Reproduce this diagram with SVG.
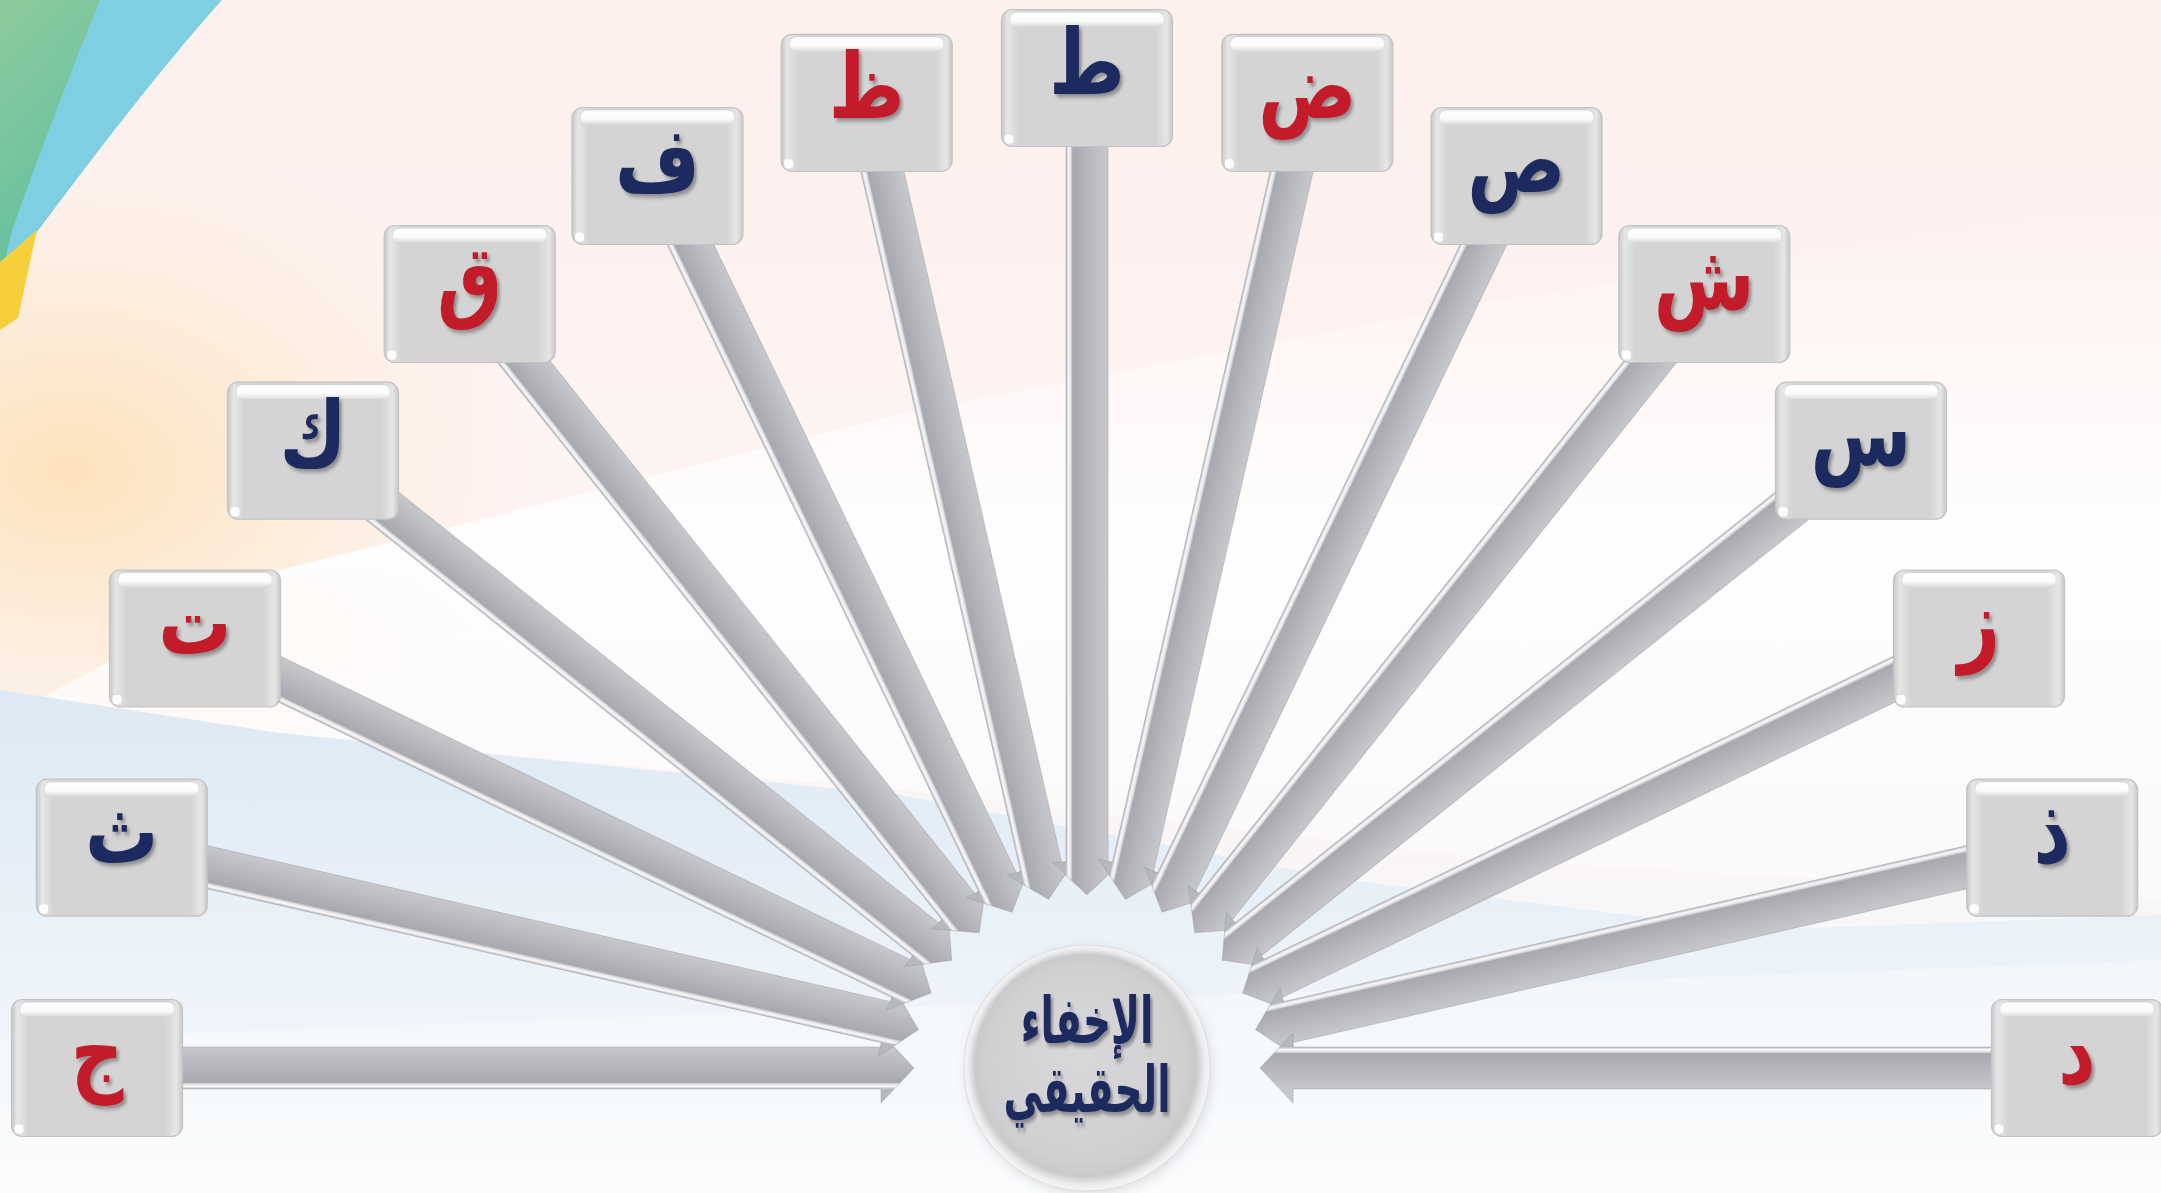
<svg xmlns="http://www.w3.org/2000/svg" xmlns:xlink="http://www.w3.org/1999/xlink" width="2161" height="1193" viewBox="0 0 2161 1193">
<defs>
<style>
.lt{font-family:"DejaVu Sans","Noto Sans",sans-serif;font-weight:bold;font-size:86px;text-anchor:middle;filter:url(#tsh)}
.red{fill:#c21f2b}
.navy{fill:#1f2a5e}
.ct{font-family:"DejaVu Sans","Noto Sans",sans-serif;font-weight:bold;font-size:54px;text-anchor:middle;fill:#1f2a5e;filter:url(#tsh)}
</style>
<filter id="tsh" x="-20%" y="-20%" width="150%" height="150%">
<feDropShadow dx="3" dy="3" stdDeviation="1.8" flood-color="#000" flood-opacity="0.35"/>
</filter>
<filter id="soft" x="-10%" y="-10%" width="120%" height="120%"><feGaussianBlur stdDeviation="6"/></filter>
<linearGradient id="arrG" gradientUnits="userSpaceOnUse" x1="0" y1="-21" x2="0" y2="21">
<stop offset="0" stop-color="#c6c8cc"/>
<stop offset="0.5" stop-color="#b4b6bb"/>
<stop offset="0.84" stop-color="#a7a9ae"/>
<stop offset="0.89" stop-color="#e4e5e8"/>
<stop offset="0.94" stop-color="#f8f8f9"/>
<stop offset="1" stop-color="#b6b8bc"/>
</linearGradient>
<path id="arrow" d="M-990,-21 L-206,-21 L-206,-35 L-173,0 L-206,35 L-206,21 L-990,21 Z" fill="url(#arrG)" stroke="#9ea0a6" stroke-opacity="0.5" stroke-width="1"/>
<linearGradient id="boxH" x1="0" y1="0" x2="1" y2="0">
<stop offset="0" stop-color="#c8c8c8"/>
<stop offset="0.035" stop-color="#e6e6e6"/>
<stop offset="0.1" stop-color="#d4d4d4"/>
<stop offset="0.9" stop-color="#d4d4d4"/>
<stop offset="0.965" stop-color="#e6e6e6"/>
<stop offset="1" stop-color="#c8c8c8"/>
</linearGradient>
<linearGradient id="boxTop" x1="0" y1="0" x2="0" y2="1">
<stop offset="0" stop-color="#ffffff"/>
<stop offset="0.6" stop-color="#fbfbfb"/>
<stop offset="1" stop-color="#dcdcdc"/>
</linearGradient>
<g id="box">
<rect x="0" y="0" width="171" height="137" rx="11" fill="url(#boxH)" stroke="#c2c2c2" stroke-width="1.2"/>
<rect x="9" y="3" width="153" height="14" rx="6" fill="url(#boxTop)"/>
<rect x="3" y="125" width="9" height="9" rx="3" fill="#ffffff" opacity="0.9"/>
</g>
<radialGradient id="circG" cx="0.5" cy="0.5" r="0.5" fx="0.45" fy="0.4">
<stop offset="0" stop-color="#d9d9db"/>
<stop offset="0.8" stop-color="#d0d0d3"/>
<stop offset="0.9" stop-color="#cacacd"/>
<stop offset="0.96" stop-color="#ececee"/>
<stop offset="1" stop-color="#f7f7f8"/>
</radialGradient>
<linearGradient id="bgBase" x1="0" y1="0" x2="0" y2="1">
<stop offset="0" stop-color="#fdf0ed"/>
<stop offset="0.45" stop-color="#fdf4f3"/>
<stop offset="1" stop-color="#f6f8fa"/>
</linearGradient>
<radialGradient id="peach" cx="0.5" cy="0.5" r="0.5">
<stop offset="0" stop-color="#fde2b8" stop-opacity="0.95"/>
<stop offset="0.5" stop-color="#fde8cc" stop-opacity="0.6"/>
<stop offset="1" stop-color="#fdecd8" stop-opacity="0"/>
</radialGradient>
<linearGradient id="blueG" x1="0" y1="0" x2="0" y2="1">
<stop offset="0" stop-color="#dde9f4"/>
<stop offset="0.45" stop-color="#e9f1f8"/>
<stop offset="1" stop-color="#f8fafc"/>
</linearGradient>
<linearGradient id="greenG" x1="0" y1="0" x2="0.4" y2="1">
<stop offset="0" stop-color="#8ecb9d"/>
<stop offset="1" stop-color="#5fbf9f"/>
</linearGradient>
<linearGradient id="whiteBand" x1="0" y1="0" x2="0" y2="1">
<stop offset="0" stop-color="#ffffff" stop-opacity="0"/>
<stop offset="0.5" stop-color="#ffffff" stop-opacity="0.9"/>
<stop offset="1" stop-color="#ffffff" stop-opacity="0.3"/>
</linearGradient>
</defs>

<g id="background">
<rect x="0" y="0" width="2161" height="1193" fill="url(#bgBase)"/>
<ellipse cx="70" cy="470" rx="460" ry="330" fill="url(#peach)"/>
<polygon points="0,720 280,570 900,414 1500,300 2161,200 2161,900 1500,860 900,790 280,735 0,700" fill="url(#whiteBand)"/>
<polygon points="0,690 280,733 900,795 1350,880 1750,930 2161,915 2161,1193 0,1193" fill="url(#blueG)"/>
<polygon points="0,1040 2161,960 2161,1193 0,1193" fill="#ffffff" opacity="0.35"/>
<polygon points="0,0 110,0 60,130 20,230 0,290" fill="url(#greenG)"/>
<path d="M100,0 L222,0 Q150,80 37,232 L0,282 L12,230 Q55,110 100,0 Z" fill="#7fcfe2"/>
<path d="M0,262 L37,230 L18,318 L0,330 Z" fill="#f6d03c"/>
</g>

<g id="connectors">
<use xlink:href="#arrow" transform="translate(1087 1068) rotate(0)"/>
<use xlink:href="#arrow" transform="translate(1087 1068) rotate(12.857)"/>
<use xlink:href="#arrow" transform="translate(1087 1068) rotate(25.714)"/>
<use xlink:href="#arrow" transform="translate(1087 1068) rotate(38.571)"/>
<use xlink:href="#arrow" transform="translate(1087 1068) rotate(51.429)"/>
<use xlink:href="#arrow" transform="translate(1087 1068) rotate(64.286)"/>
<use xlink:href="#arrow" transform="translate(1087 1068) rotate(77.143)"/>
<use xlink:href="#arrow" transform="translate(1087 1068) rotate(90)"/>
<use xlink:href="#arrow" transform="translate(1087 1068) rotate(102.857)"/>
<use xlink:href="#arrow" transform="translate(1087 1068) rotate(115.714)"/>
<use xlink:href="#arrow" transform="translate(1087 1068) rotate(128.571)"/>
<use xlink:href="#arrow" transform="translate(1087 1068) rotate(141.429)"/>
<use xlink:href="#arrow" transform="translate(1087 1068) rotate(154.286)"/>
<use xlink:href="#arrow" transform="translate(1087 1068) rotate(167.143)"/>
<use xlink:href="#arrow" transform="translate(1087 1068) rotate(180)"/>
</g>

<g id="n-jim" transform="translate(11.5 999.5)"><use xlink:href="#box"/><text class="lt red" transform="translate(85.5 84) scale(0.85 1.06)">ج</text></g>
<g id="n-tha" transform="translate(36.3 779.2)"><use xlink:href="#box"/><text class="lt navy" transform="translate(85.5 84) scale(0.85 1.06)">ث</text></g>
<g id="n-ta" transform="translate(109.5 570)"><use xlink:href="#box"/><text class="lt red" transform="translate(85.5 84) scale(0.85 1.06)">ت</text></g>
<g id="n-kaf" transform="translate(227.5 382.2)"><use xlink:href="#box"/><text class="lt navy" transform="translate(85.5 84) scale(0.85 1.06)">ك</text></g>
<g id="n-qaf" transform="translate(384.2 225.5)"><use xlink:href="#box"/><text class="lt red" transform="translate(85.5 84) scale(0.85 1.06)">ق</text></g>
<g id="n-fa" transform="translate(572 107.5)"><use xlink:href="#box"/><text class="lt navy" transform="translate(85.5 84) scale(0.85 1.06)">ف</text></g>
<g id="n-dha" transform="translate(781.2 34.3)"><use xlink:href="#box"/><text class="lt red" transform="translate(85.5 84) scale(0.85 1.06)">ظ</text></g>
<g id="n-tah" transform="translate(1001.5 9.5)"><use xlink:href="#box"/><text class="lt navy" transform="translate(85.5 84) scale(0.85 1.06)">ط</text></g>
<g id="n-dad" transform="translate(1221.8 34.3)"><use xlink:href="#box"/><text class="lt red" transform="translate(85.5 84) scale(0.85 1.06)">ض</text></g>
<g id="n-sad" transform="translate(1431 107.5)"><use xlink:href="#box"/><text class="lt navy" transform="translate(85.5 84) scale(0.85 1.06)">ص</text></g>
<g id="n-shin" transform="translate(1618.8 225.5)"><use xlink:href="#box"/><text class="lt red" transform="translate(85.5 84) scale(0.85 1.06)">ش</text></g>
<g id="n-sin" transform="translate(1775.5 382.2)"><use xlink:href="#box"/><text class="lt navy" transform="translate(85.5 84) scale(0.85 1.06)">س</text></g>
<g id="n-zay" transform="translate(1893.5 570)"><use xlink:href="#box"/><text class="lt red" transform="translate(85.5 84) scale(0.85 1.06)">ز</text></g>
<g id="n-dhal" transform="translate(1966.7 779.2)"><use xlink:href="#box"/><text class="lt navy" transform="translate(85.5 84) scale(0.85 1.06)">ذ</text></g>
<g id="n-dal" transform="translate(1991.5 999.5)"><use xlink:href="#box"/><text class="lt red" transform="translate(85.5 84) scale(0.85 1.06)">د</text></g>

<g id="n-center">
<circle cx="1089" cy="1072" r="123" fill="#8a8c92" opacity="0.25" filter="url(#soft)"/>
<circle cx="1087" cy="1068" r="123" fill="url(#circG)" stroke="#e2e2e4" stroke-width="1.5"/>
<text class="ct" transform="translate(1087 1043) scale(0.72 1.2)">الإخفاء</text>
<text class="ct" transform="translate(1087 1112) scale(0.72 1.2)">الحقيقي</text>
</g>
</svg>
